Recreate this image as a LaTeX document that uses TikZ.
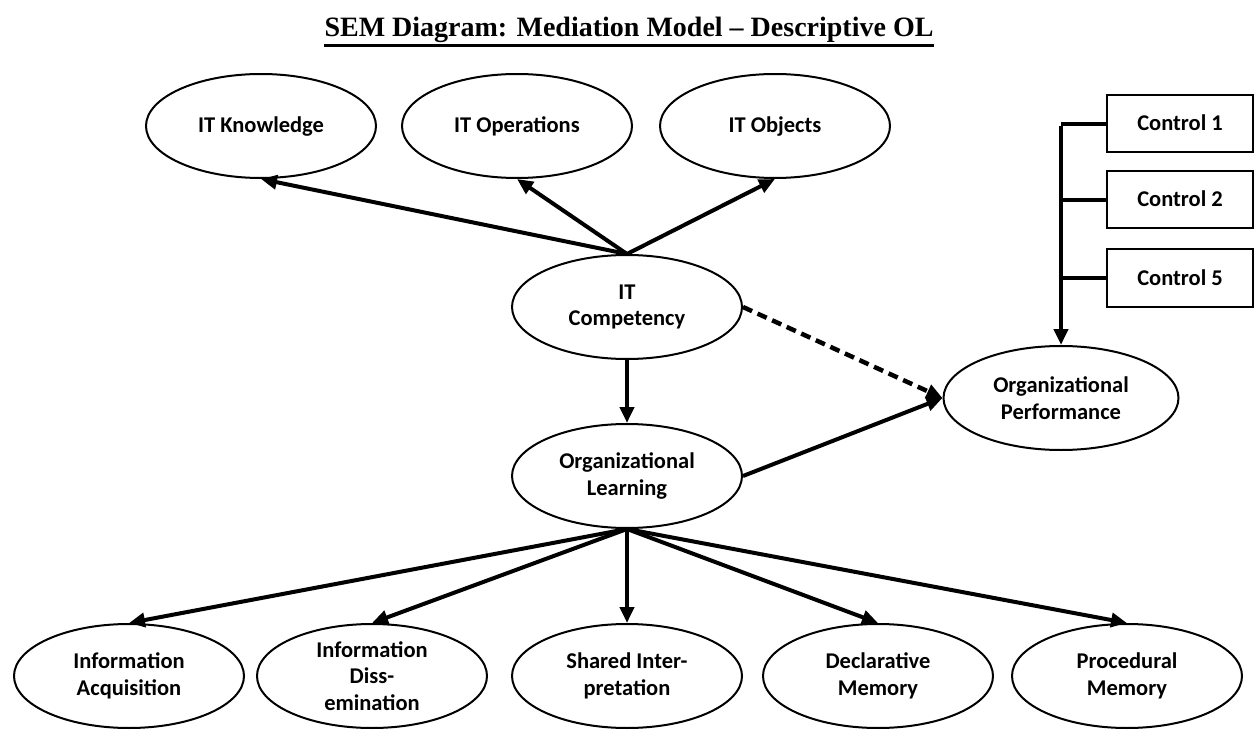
\documentclass[tikz,border=0pt]{standalone}
\usepackage{fontspec}
\setmainfont{Carlito}
\newfontfamily\titlefont{Liberation Serif}
\usetikzlibrary{shapes.geometric,arrows.meta}
\begin{document}
\begin{tikzpicture}[x=1pt,y=-1pt,
  latent/.style={ellipse,draw,line width=2pt,minimum width=230pt,minimum height=104pt,
    inner sep=0pt,align=center,font=\bfseries\fontsize{22.5}{26.5}\selectfont},
  oneline/.style={text height=15pt,text depth=1pt},
  ctrlbox/.style={rectangle,draw,line width=2pt,minimum width=146pt,minimum height=57pt,
    inner sep=0pt,oneline,font=\bfseries\fontsize{22.5}{26.5}\selectfont},
  tip/.style={-{Triangle[length=16pt,width=14pt]}},
  link/.style={line width=4pt,tip},
  dashlink/.style={line width=4.5pt,tip,dash pattern=on 10pt off 6pt},
  ctrlline/.style={line width=4.5pt}]
\useasboundingbox (0,0) rectangle (1256,730);

% title
\node[inner sep=0pt,anchor=base,font=\titlefont\bfseries\fontsize{28}{32}\selectfont] (title) at (629,37)
  {SEM Diagram: Mediation Model \textendash{} Descriptive OL};
\draw[line width=3pt] ([yshift=-8.5pt]title.base west) -- ([yshift=-8.5pt]title.base east);

% indicators of IT competency
\node[latent,oneline] (itk) at (261,126) {IT Knowledge};
\node[latent,oneline] (ito) at (517,126) {IT Operations};
\node[latent,oneline] (itob) at (775,126) {IT Objects};

% core constructs
\node[latent] (itc) at (627,307) {IT\\Competency};
\node[latent] (ol) at (627,476) {Organizational\\Learning};
\node[latent,minimum width=235pt] (op) at (1061,398) {Organizational\\Performance};

% control variables
\node[ctrlbox] (c1) at (1180,124) {Control 1};
\node[ctrlbox] (c2) at (1180,200) {Control 2};
\node[ctrlbox] (c5) at (1180,278) {Control 5};

% indicators of organizational learning
\node[latent] (ia) at (129,676) {Information\\Acquisition};
\node[latent] (id) at (372,676) {Information\\Diss-\\emination};
\node[latent] (si) at (627,676) {Shared Inter-\\pretation};
\node[latent] (dm) at (878,676) {Declarative\\Memory};
\node[latent] (pm) at (1127,676) {Procedural\\Memory};

% paths
\draw[link] (itc.north) -- (itk.south);
\draw[link] (itc.north) -- (ito.south);
\draw[link] (itc.north) -- (itob.south);
\draw[link] (itc.south) -- (ol.north);
\draw[dashlink] (itc.east) -- (op.west);
\draw[link] (ol.east) -- (op.west);
\foreach \t in {ia,id,si,dm,pm}
  \draw[link] (ol.south) -- (\t.north);

% controls feeding organizational performance
\draw[ctrlline] (c1.west) -- (c1.west -| op.north);
\draw[ctrlline] (c2.west) -- (c2.west -| op.north);
\draw[ctrlline] (c5.west) -- (c5.west -| op.north);
\draw[link] ([yshift=-2pt]c1.west -| op.north) -- (op.north);
\end{tikzpicture}
\end{document}
